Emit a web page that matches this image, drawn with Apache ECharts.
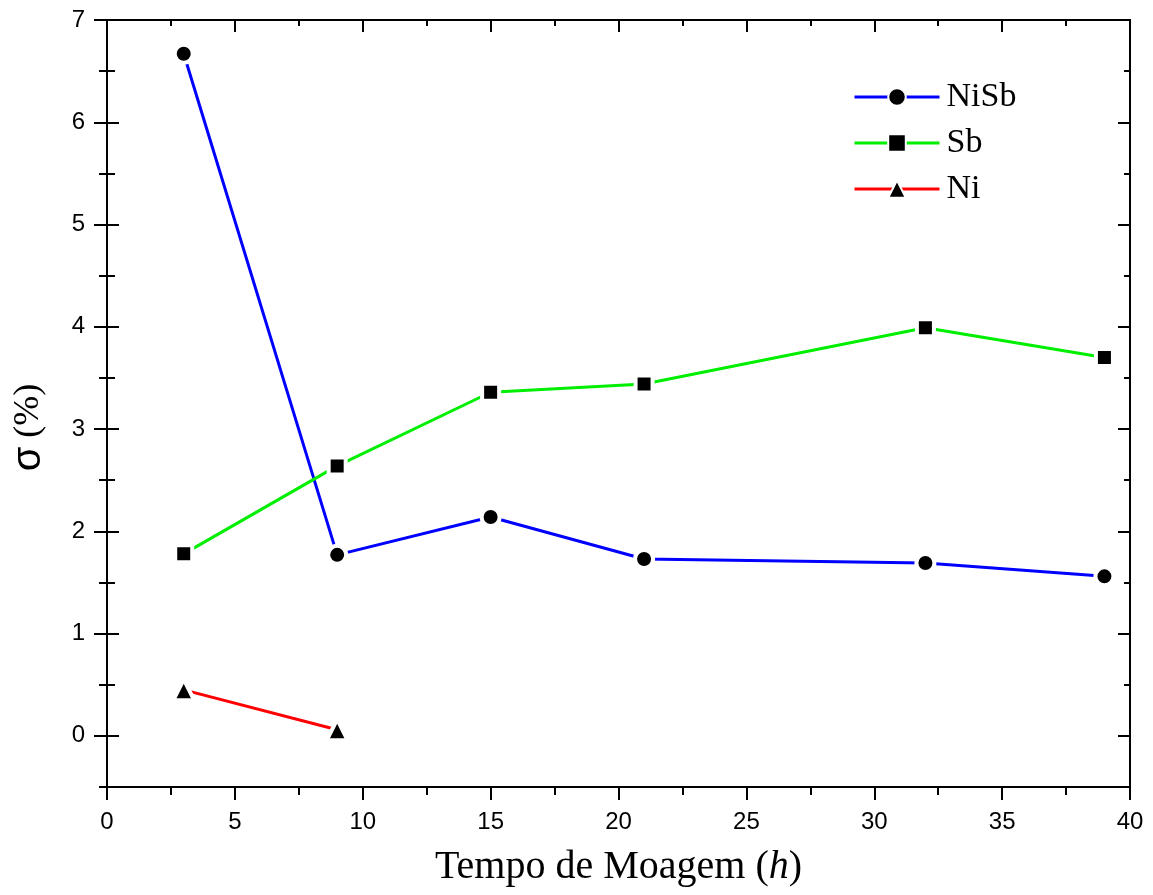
<!DOCTYPE html>
<html>
<head>
<meta charset="utf-8">
<script src="https://cdn.jsdelivr.net/npm/echarts@6/dist/echarts.min.js"></script>
<style>html,body{margin:0;padding:0;background:#fff}#c{width:1153px;height:895px}</style>
</head>
<body>
<div id="c"></div>
<script>
const hours = [3, 9, 15, 21, 32, 39];
const niSb = [6.67, 1.77, 2.14, 1.73, 1.69, 1.56];
const sb = [1.78, 2.64, 3.36, 3.44, 3.99, 3.70];
const niHours = [3, 9];
const ni = [0.45, 0.06];
const yMajor = [0, 1, 2, 3, 4, 5, 6, 7];
const yMinor = [-0.5, 0.5, 1.5, 2.5, 3.5, 4.5, 5.5, 6.5];
const seriesNames = ['NiSb', 'Sb', 'Ni'];

const chart = echarts.init(document.getElementById('c'));
const Y_MIN = -0.5, Y_MAX = 7;
const lineBlack = {show: true, onZero: false, lineStyle: {color: '#000', width: 2}};
function yAx(pos, vals, len, inside, extra) {
  return Object.assign({
    type: 'value', position: pos, min: Y_MIN, max: Y_MAX,
    axisLine: lineBlack,
    axisTick: {show: true, inside: inside, length: len, customValues: vals, lineStyle: {color: '#000', width: 2}},
    axisLabel: {show: false},
    splitLine: {show: false}
  }, extra || {});
}
const sym = {borderColor: '#fff', borderWidth: 4};
chart.setOption({
  animation: false,
  backgroundColor: '#fff',
  grid: {left: 107, right: 23, top: 20, bottom: 108, containLabel: false},
  legend: {
    orient: 'vertical', left: 853, top: 80, padding: 0, itemWidth: 85, itemHeight: 22, itemGap: 12,
    data: seriesNames,
    lineStyle: {width: 3},
    textStyle: {fontFamily: 'Liberation Serif', fontSize: 34, color: '#000', padding: [0, 0, 0, 2]}
  },
  xAxis: [
    {
      type: 'value', position: 'bottom', min: 0, max: 40, interval: 5,
      axisLine: lineBlack,
      axisTick: {show: true, inside: false, length: 13, lineStyle: {color: '#000', width: 2}},
      minorTick: {show: true, splitNumber: 2, length: 8, lineStyle: {color: '#000', width: 2}},
      axisLabel: {fontFamily: 'Liberation Sans', fontSize: 24, color: '#000', margin: 23},
      splitLine: {show: false},
      name: 'Tempo de Moagem ({i|h})', nameLocation: 'middle', nameGap: 60,
      nameTextStyle: {fontFamily: 'Liberation Serif', fontSize: 40, color: '#000',
        rich: {i: {fontFamily: 'Liberation Serif', fontStyle: 'italic', fontSize: 40, color: '#000'}}}
    },
    {
      type: 'value', position: 'top', min: 0, max: 40, interval: 5,
      axisLine: lineBlack,
      axisTick: {show: true, inside: true, length: 12, lineStyle: {color: '#000', width: 2}},
      minorTick: {show: true, splitNumber: 2, length: 6, lineStyle: {color: '#000', width: 2}},
      axisLabel: {show: false},
      splitLine: {show: false}
    }
  ],
  yAxis: [
    yAx('left', yMajor, 13, false, {
      axisLabel: {show: true, customValues: yMajor, fontFamily: 'Liberation Sans', fontSize: 24, color: '#000', margin: 22},
      name: '{s|σ} (%)', nameLocation: 'middle', nameGap: 58,
      nameTextStyle: {fontFamily: 'Liberation Serif', fontSize: 36, color: '#000', padding: [0, 48, 0, 0],
        rich: {s: {fontFamily: 'Liberation Sans', fontSize: 40, color: '#000'}}}
    }),
    yAx('left', yMajor, 12, true),
    yAx('left', yMinor, 8, false),
    yAx('left', yMinor, 8, true),
    yAx('right', yMajor, 12, true),
    yAx('right', yMinor, 6, true)
  ],
  series: [
    {
      name: seriesNames[0], type: 'line', xAxisIndex: 0, yAxisIndex: 0,
      data: hours.map((h, i) => [h, niSb[i]]),
      symbol: 'circle', symbolSize: 18,
      lineStyle: {color: '#0000FF', width: 3},
      itemStyle: Object.assign({color: '#000'}, sym)
    },
    {
      name: seriesNames[1], type: 'line', xAxisIndex: 0, yAxisIndex: 0,
      data: hours.map((h, i) => [h, sb[i]]),
      symbol: 'rect', symbolSize: 17,
      lineStyle: {color: '#00EE00', width: 3},
      itemStyle: Object.assign({color: '#000'}, sym)
    },
    {
      name: seriesNames[2], type: 'line', xAxisIndex: 0, yAxisIndex: 0,
      data: niHours.map((h, i) => [h, ni[i]]),
      symbol: 'triangle', symbolSize: 21,
      lineStyle: {color: '#FF0000', width: 3},
      itemStyle: Object.assign({color: '#000'}, sym)
    }
  ]
});
</script>
</body>
</html>
